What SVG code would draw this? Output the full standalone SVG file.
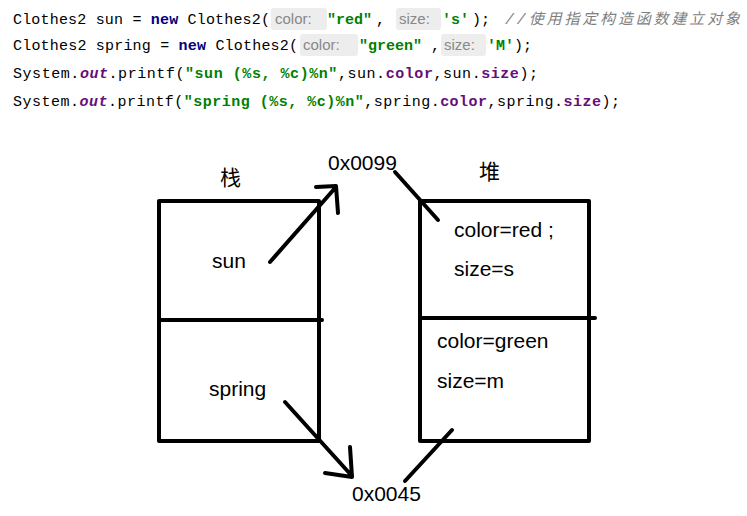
<svg xmlns="http://www.w3.org/2000/svg" width="747" height="516" viewBox="0 0 747 516">
<style>
.c{font-family:"Liberation Mono",monospace;font-size:15px;fill:#000}
.k{fill:#000080;font-weight:bold}
.s{fill:#008000;font-weight:bold}
.p{fill:#660e7a}
.pb{fill:#660e7a;font-weight:bold}
.i{font-style:italic}
.h{font-family:"Liberation Sans",sans-serif;font-size:15px;fill:#888}
.hb{fill:#ededed}
.cm{font-family:"Liberation Mono","Noto Sans CJK SC",monospace;font-size:15px;fill:#808080;font-style:italic}
.t{font-family:"Liberation Sans","Noto Sans CJK SC",sans-serif;font-size:21px;fill:#000}
.ln{stroke:#000;stroke-width:4;fill:none;stroke-linecap:round;stroke-linejoin:round}
</style>
<rect width="747" height="516" fill="#fff"/>
<g id="code">
<rect class="hb" x="271" y="8" width="56" height="22" rx="3"/>
<rect class="hb" x="396" y="8" width="45" height="22" rx="3"/>
<rect class="hb" x="300" y="34" width="58" height="22" rx="3"/>
<rect class="hb" x="441" y="34" width="45" height="22" rx="3"/>
<text class="c" x="13" y="24" textLength="257">Clothes2 sun = <tspan class="k">new</tspan> Clothes2(</text>
<text class="h" x="275" y="24">color:</text>
<text class="c s" x="327" y="24">"red"</text><text class="c" x="376" y="24">,</text>
<text class="h" x="399" y="24">size:</text>
<text class="c s" x="442" y="24">'s'</text><text class="c" x="472" y="24">);</text>
<text class="cm" x="505" y="24" textLength="235">//使用指定构造函数建立对象</text>
<text class="c" x="13" y="50" textLength="285">Clothes2 spring = <tspan class="k">new</tspan> Clothes2(</text>
<text class="h" x="303" y="50">color:</text>
<text class="c s" x="359" y="50">"green"</text><text class="c" x="431" y="50">,</text>
<text class="h" x="444" y="50">size:</text>
<text class="c s" x="487" y="50">'M'</text><text class="c" x="514" y="50">);</text>
<text class="c" x="13" y="78" textLength="525">System.<tspan class="pb i">out</tspan>.printf(<tspan class="s">"sun (%s, %c)%n"</tspan>,sun.<tspan class="pb">color</tspan>,sun.<tspan class="pb">size</tspan>);</text>
<text class="c" x="13" y="106" textLength="607">System.<tspan class="pb i">out</tspan>.printf(<tspan class="s">"spring (%s, %c)%n"</tspan>,spring.<tspan class="pb">color</tspan>,spring.<tspan class="pb">size</tspan>);</text>
</g>
<g id="stack">
<rect class="ln" x="159" y="201" width="160" height="240"/>
<line class="ln" x1="159" y1="320" x2="322" y2="320"/>
<text class="t" x="220" y="185">栈</text>
<text class="t" x="212" y="268">sun</text>
<text class="t" x="209" y="396">spring</text>
</g>
<g id="heap">
<rect class="ln" x="420" y="201" width="169" height="240"/>
<line class="ln" x1="420" y1="318" x2="595" y2="318"/>
<text class="t" x="479" y="179">堆</text>
<text class="t" x="454" y="237">color=red ;</text>
<text class="t" x="454" y="276">size=s</text>
<text class="t" x="437" y="348">color=green</text>
<text class="t" x="437" y="388">size=m</text>
</g>
<g id="addr">
<text class="t" x="328" y="170">0x0099</text>
<text class="t" x="352" y="501">0x0045</text>
</g>
<g id="connectors">
<path class="ln" d="M270,262 L336,187 M316,187 L336,186 L338,213"/>
<path class="ln" d="M395,172 L438,220"/>
<path class="ln" d="M285,402 L352,476 M325,473 L352,477 L350,447"/>
<path class="ln" d="M405,481 L452,430"/>
</g>
</svg>
